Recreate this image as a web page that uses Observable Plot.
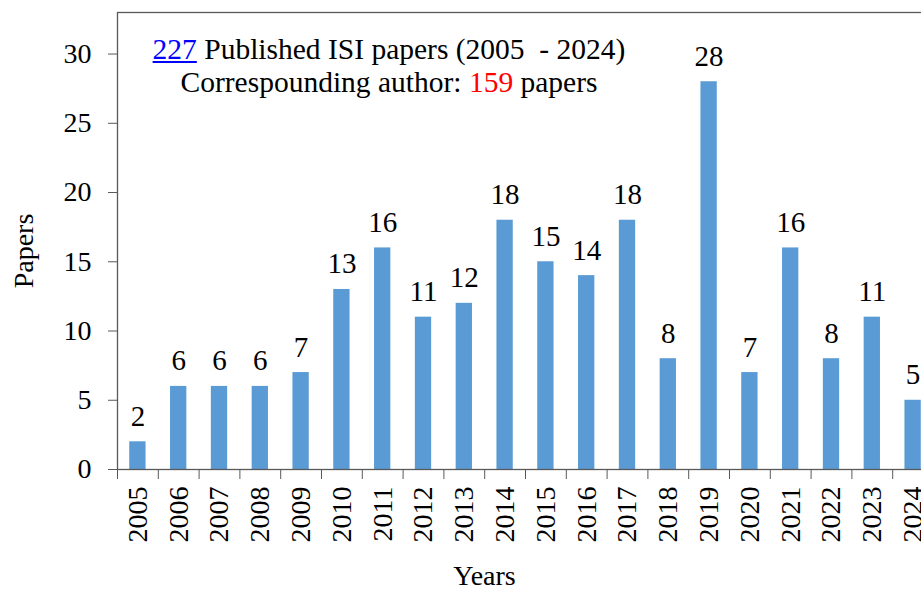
<!DOCTYPE html>
<html>
<head>
<meta charset="utf-8">
<script src="https://cdn.jsdelivr.net/npm/d3@7"></script>
<script src="https://cdn.jsdelivr.net/npm/@observablehq/plot@0.6"></script>
<style>
  html, body { margin: 0; padding: 0; background: white; overflow: hidden; }
  #wrap { position: relative; width: 921px; height: 594px; }
  #note {
    position: absolute; left: 89px; top: 33px; width: 600px;
    text-align: center; font-family: "Liberation Serif", "Times New Roman", serif;
    font-size: 29.5px; line-height: 33px; color: black; white-space: pre;
  }
  #note .blue { color: #0000FF; text-decoration: underline; }
  #note .red { color: #FF0000; }
</style>
</head>
<body>
<div id="wrap">
  <div id="chart"></div>
  <div id="note"><div><span class="blue">227</span><span> Published ISI papers (2005  - 2024)</span></div><div><span>Correspounding author: </span><span class="red">159</span><span> papers</span></div></div>
</div>
<script>
const years = ["2005","2006","2007","2008","2009","2010","2011","2012","2013","2014",
               "2015","2016","2017","2018","2019","2020","2021","2022","2023","2024"];
const papers = [2, 6, 6, 6, 7, 13, 16, 11, 12, 18, 15, 14, 18, 8, 28, 7, 16, 8, 11, 5];
const yTicks = [0, 5, 10, 15, 20, 25, 30];
const yMax = 33;
const xLabel = "Years";
const yLabel = "Papers";

const data = years.map((y, i) => ({year: y, value: papers[i]}));

const W = 921, H = 594;
const mL = 117, mR = -12, mT = 12, mB = 125;
const step = (W - mR - mL) / years.length;
const axisColor = "#595959";

const chart = Plot.plot({
  width: W,
  height: H,
  marginLeft: mL,
  marginRight: mR,
  marginTop: mT,
  marginBottom: mB,
  style: {fontFamily: "Liberation Serif", fontSize: "28px", color: "black", background: "white"},
  x: {domain: years, type: "band", paddingInner: 0.6, paddingOuter: 0.3, round: false},
  y: {domain: [0, yMax]},
  marks: [
    Plot.barY(data, {x: "year", y: "value", fill: "#5B9BD5"}),
    Plot.frame({stroke: axisColor, strokeWidth: 1.3}),
    Plot.axisY({ticks: yTicks, tickSize: 9, tickPadding: 17, stroke: axisColor, label: null, fill: "black"}),
    Plot.axisX({tickSize: 10, dx: -step / 2, tickFormat: () => "", stroke: axisColor, label: null}),
    Plot.axisX({tickSize: 0, tickPadding: 17, tickRotate: -90, label: null, fill: "black"}),
    Plot.text(data, {x: "year", y: "value", text: d => String(d.value), lineAnchor: "bottom", dy: -16, fill: "black", fontSize: 29}),
    Plot.text([yLabel], {frameAnchor: "left", textAnchor: "middle", rotate: -90, dx: -93, dy: 10, fill: "black"}),
    Plot.text([xLabel], {frameAnchor: "bottom", textAnchor: "middle", lineAnchor: "bottom", dx: -41, dy: 115, fill: "black"})
  ]
});
document.getElementById("chart").appendChild(chart);
</script>
</body>
</html>
